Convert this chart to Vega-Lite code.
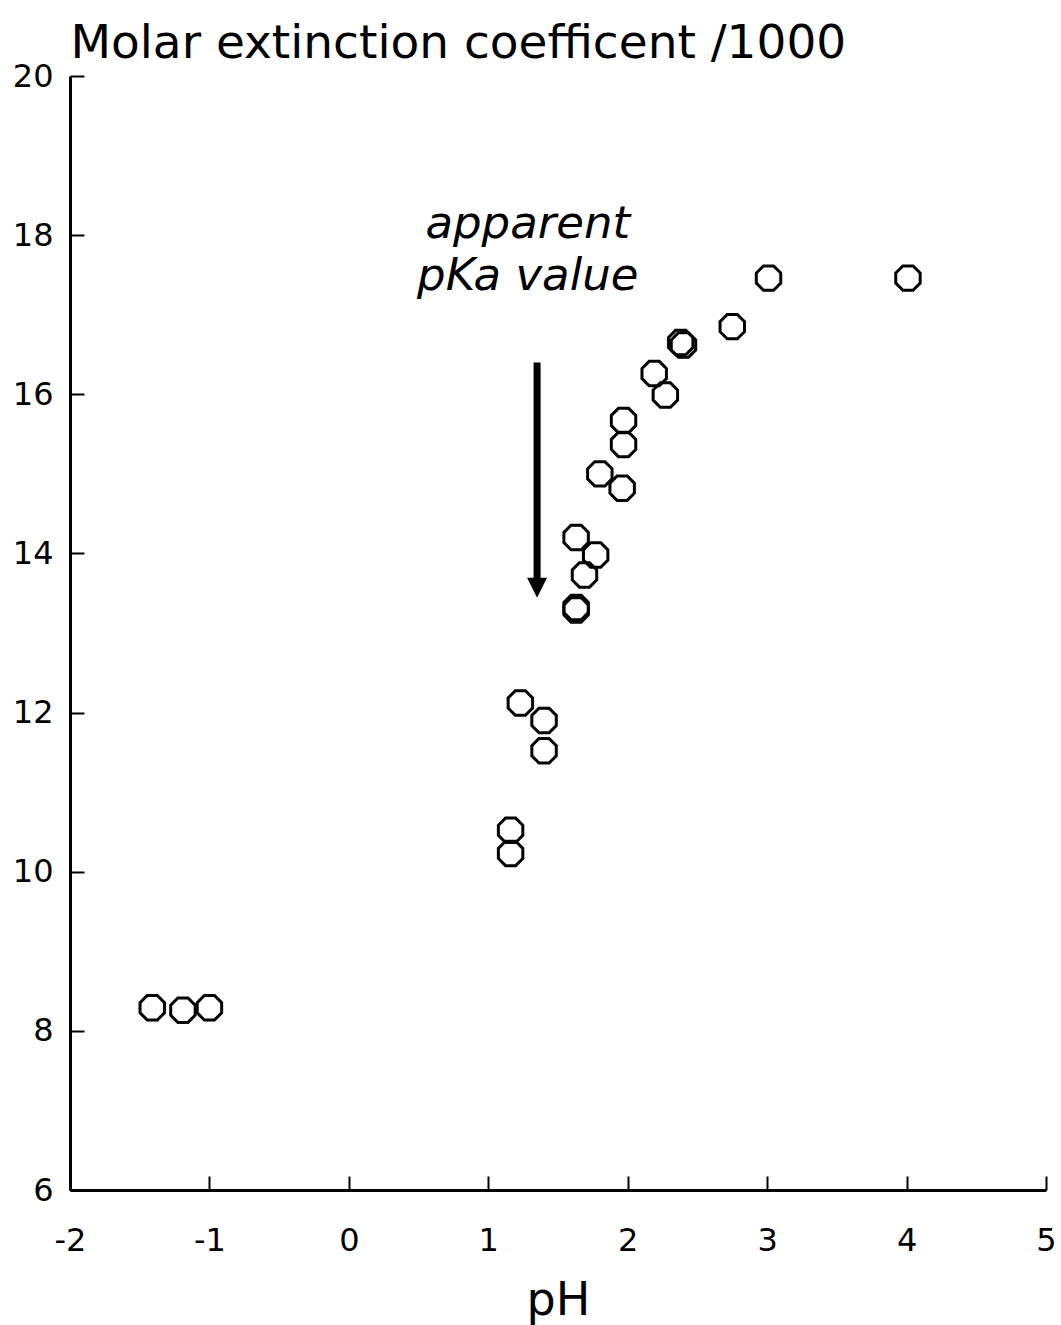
{
  "$schema": "https://vega.github.io/schema/vega-lite/v6.json",
  "width": 976,
  "height": 1114,
  "autosize": {"type": "none"},
  "padding": {"left": 70, "top": 76, "right": 15, "bottom": 135},
  "background": "white",
  "datasets": {
    "points": [
      {"pH": -1.41, "eps": 8.29},
      {"pH": -1.19, "eps": 8.26},
      {"pH": -1.00, "eps": 8.29},
      {"pH": 1.16, "eps": 10.52},
      {"pH": 1.16, "eps": 10.23},
      {"pH": 1.23, "eps": 12.12},
      {"pH": 1.40, "eps": 11.90},
      {"pH": 1.40, "eps": 11.52},
      {"pH": 1.63, "eps": 13.32},
      {"pH": 1.63, "eps": 13.29},
      {"pH": 1.63, "eps": 14.20},
      {"pH": 1.69, "eps": 13.73},
      {"pH": 1.77, "eps": 13.98},
      {"pH": 1.80, "eps": 15.00},
      {"pH": 1.96, "eps": 14.82},
      {"pH": 1.97, "eps": 15.37},
      {"pH": 1.97, "eps": 15.67},
      {"pH": 2.19, "eps": 16.26},
      {"pH": 2.27, "eps": 15.99},
      {"pH": 2.38, "eps": 16.65},
      {"pH": 2.40, "eps": 16.62},
      {"pH": 2.75, "eps": 16.85},
      {"pH": 3.01, "eps": 17.46},
      {"pH": 4.01, "eps": 17.46}
    ],
    "arrow": [
      {"pH": 1.35, "top": 16.40, "bottom": 13.66, "head": 13.57}
    ],
    "labels": [
      {"pH": 1.283, "eps": 17.97, "label": "apparent"},
      {"pH": 1.283, "eps": 17.31, "label": "pKa value"}
    ]
  },
  "layer": [
    {
      "data": {"name": "points"},
      "mark": {
        "type": "point",
        "shape": "M-0.383,-0.924L0.383,-0.924L0.924,-0.383L0.924,0.383L0.383,0.924L-0.383,0.924L-0.924,0.383L-0.924,-0.383Z",
        "filled": false,
        "stroke": "black",
        "strokeWidth": 3,
        "size": 700,
        "opacity": 1
      },
      "encoding": {
        "x": {
          "field": "pH",
          "type": "quantitative",
          "scale": {"domain": [-2, 5], "nice": false, "zero": false},
          "axis": {
            "title": "pH",
            "values": [-2, -1, 0, 1, 2, 3, 4, 5],
            "labelExpr": "datum.value + ''",
            "labelFlush": false,
            "grid": false,
            "tickSize": -14,
            "labelPadding": 49,
            "labelFontSize": 32,
            "titleFontSize": 46,
            "titlePadding": 22,
            "titleFontWeight": "normal"
          }
        },
        "y": {
          "field": "eps",
          "type": "quantitative",
          "scale": {"domain": [6, 20], "nice": false, "zero": false},
          "axis": {
            "title": "Molar extinction coefficent /1000",
            "titleAngle": 0,
            "titleX": 0,
            "titleY": -19,
            "titleAlign": "left",
            "titleBaseline": "alphabetic",
            "titleFontSize": 47,
            "titleFontWeight": "normal",
            "values": [6, 8, 10, 12, 14, 16, 18, 20],
            "labelExpr": "datum.value + ''",
            "labelFlush": false,
            "grid": false,
            "tickSize": -14,
            "labelPadding": 31,
            "labelFontSize": 32
          }
        }
      }
    },
    {
      "data": {"name": "arrow"},
      "mark": {"type": "rule", "color": "black", "strokeWidth": 7, "strokeCap": "butt"},
      "encoding": {
        "x": {"field": "pH", "type": "quantitative"},
        "y": {"field": "top", "type": "quantitative"},
        "y2": {"field": "bottom"}
      }
    },
    {
      "data": {"name": "arrow"},
      "mark": {
        "type": "point",
        "shape": "M-1,-1L1,-1L0,1Z",
        "filled": true,
        "color": "black",
        "size": 400,
        "opacity": 1
      },
      "encoding": {
        "x": {"field": "pH", "type": "quantitative"},
        "y": {"field": "head", "type": "quantitative"}
      }
    },
    {
      "data": {"name": "labels"},
      "mark": {
        "type": "text",
        "font": "DejaVu Sans",
        "fontSize": 45,
        "fontStyle": "italic",
        "align": "center",
        "baseline": "alphabetic",
        "color": "black"
      },
      "encoding": {
        "x": {"field": "pH", "type": "quantitative"},
        "y": {"field": "eps", "type": "quantitative"},
        "text": {"field": "label"}
      }
    }
  ],
  "config": {
    "view": {"stroke": null},
    "font": "DejaVu Sans",
    "axis": {
      "domainColor": "black",
      "domainWidth": 3,
      "tickColor": "black",
      "tickWidth": 2,
      "labelColor": "black",
      "titleColor": "black",
      "labelFont": "DejaVu Sans",
      "titleFont": "DejaVu Sans"
    }
  }
}
